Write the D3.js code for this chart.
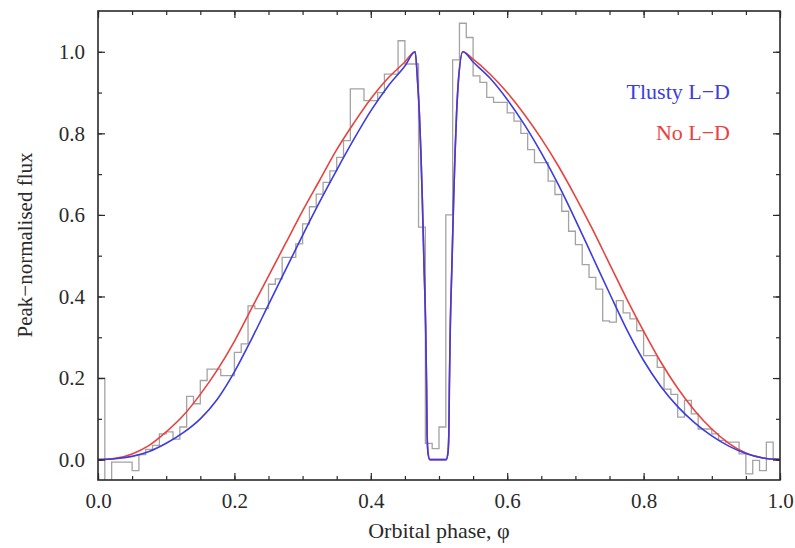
<!DOCTYPE html>
<html><head><meta charset="utf-8">
<script src="https://cdn.jsdelivr.net/npm/d3@7"></script>
<style>body{margin:0;background:#fff}</style>
</head><body>
<svg id="chart" width="795" height="548"></svg>
<script>
// ---- data ----
const binWidth = 0.01;
const binFlux = [
  0.20, -0.06, -0.006, -0.006, -0.006, -0.027, 0.012, 0.025, 0.035, 0.063,
  0.068, 0.05, 0.08, 0.155, 0.137, 0.194, 0.222, 0.222, 0.206, 0.206,
  0.263, 0.284, 0.377, 0.37, 0.37, 0.43, 0.443, 0.496, 0.496, 0.529,
  0.578, 0.62, 0.651, 0.68, 0.708, 0.741, 0.782, 0.909, 0.909, 0.88,
  0.88, 0.90, 0.945, 0.945, 1.027, 0.97, 0.97, 0.57, 0.04, 0.027,
  0.08, 0.60, 0.98, 1.07, 1.035, 0.941, 0.925, 0.888, 0.876, 0.876,
  0.85, 0.83, 0.80, 0.76, 0.728, 0.728, 0.683, 0.65, 0.609, 0.56,
  0.527, 0.478, 0.447, 0.418, 0.34, 0.337, 0.39, 0.36, 0.345, 0.316,
  0.255, 0.255, 0.226, 0.173, 0.16, 0.104, 0.145, 0.112, 0.075, 0.075,
  0.063, 0.047, 0.043, 0.043, 0.014, -0.035, -0.002, -0.027, 0.043, 0.002
];
const modelPhase = [
  0, 0.025, 0.05, 0.075, 0.1, 0.125, 0.15, 0.175, 0.2, 0.225,
  0.25, 0.275, 0.3, 0.325, 0.35, 0.375, 0.4, 0.425, 0.45, 0.465,
  0.4685, 0.4712, 0.4735, 0.4755, 0.478, 0.4805, 0.4818, 0.4826, 0.484, 0.4865,
  0.5105, 0.513, 0.5144, 0.5152, 0.5165, 0.519, 0.5215, 0.5235, 0.5258, 0.5285,
  0.535, 0.55, 0.575, 0.6, 0.625, 0.65, 0.675, 0.7, 0.725, 0.75,
  0.775, 0.8, 0.825, 0.85, 0.875, 0.9, 0.925, 0.95, 0.975, 1.0
];
const tlustyFlux = [
  0, 0.002, 0.008, 0.02, 0.04, 0.066, 0.10, 0.148, 0.215, 0.295,
  0.38, 0.465, 0.55, 0.632, 0.71, 0.785, 0.855, 0.915, 0.965, 1.0,
  0.93, 0.85, 0.75, 0.64, 0.48, 0.32, 0.18, 0.06, 0.015, 0.0,
  0.0, 0.015, 0.06, 0.18, 0.32, 0.48, 0.64, 0.75, 0.85, 0.93,
  1.0, 0.975, 0.935, 0.883, 0.822, 0.752, 0.674, 0.588, 0.498, 0.408,
  0.32, 0.243, 0.18, 0.13, 0.09, 0.058, 0.033, 0.015, 0.004, 0
];
const noLDFlux = [
  0, 0.003, 0.014, 0.035, 0.068, 0.108, 0.16, 0.22, 0.29, 0.37,
  0.45, 0.53, 0.61, 0.685, 0.76, 0.825, 0.885, 0.935, 0.975, 1.0,
  0.93, 0.85, 0.75, 0.64, 0.48, 0.32, 0.18, 0.06, 0.015, 0.0,
  0.0, 0.015, 0.06, 0.18, 0.32, 0.48, 0.64, 0.75, 0.85, 0.93,
  1.0, 0.982, 0.945, 0.90, 0.847, 0.787, 0.72, 0.645, 0.565, 0.48,
  0.395, 0.315, 0.24, 0.175, 0.12, 0.075, 0.04, 0.016, 0.004, 0
];
const xTicks = [0, 0.2, 0.4, 0.6, 0.8, 1.0];
const yTicks = [0, 0.2, 0.4, 0.6, 0.8, 1.0];
const xMinorTicks = d3.range(0, 1.0001, 0.05);
const yMinorTicks = [0, 0.1, 0.2, 0.3, 0.4, 0.5, 0.6, 0.7, 0.8, 0.9, 1.0];
const seriesNames = ["Tlusty L\u2212D", "No L\u2212D"];
const xTitle = "Orbital phase, \u03c6";
const yTitle = "Peak\u2212normalised flux";

// ---- layout ----
const L = 98, R = 780, T = 11, B = 480;
const blue = "#3c3ce0", red = "#e8433f", grey = "#a3a3a3", ink = "#2a2a2a";
const font = "'Liberation Serif', 'Times New Roman', Times, serif";

const svg = d3.select("#chart");
const x = d3.scaleLinear().domain([0, 1]).range([L, R]);
const y = d3.scaleLinear().domain([-0.05, 1.1]).range([B, T]);

svg.append("defs").append("clipPath").attr("id", "clip")
  .append("rect").attr("x", L).attr("y", T).attr("width", R - L).attr("height", B - T);

const plot = svg.append("g").attr("clip-path", "url(#clip)");

// histogram
const histPts = binFlux.map((v, i) => [i * binWidth, v]);
histPts.push([binFlux.length * binWidth, binFlux[binFlux.length - 1]]);
plot.append("path")
  .attr("d", d3.line().x(d => x(d[0])).y(d => y(d[1])).curve(d3.curveStepAfter)(histPts))
  .attr("fill", "none").attr("stroke", grey).attr("stroke-width", 1.3);

const modelLine = vals => d3.line()
  .x((d, i) => x(modelPhase[i])).y(d => y(d))
  .curve(d3.curveMonotoneX)(vals);

plot.append("path").attr("d", modelLine(noLDFlux))
  .attr("fill", "none").attr("stroke", red).attr("stroke-width", 1.6);
plot.append("path").attr("d", modelLine(tlustyFlux))
  .attr("fill", "none").attr("stroke", blue).attr("stroke-width", 1.6);

// axes
function styleAxis(g) {
  g.select(".domain").remove();
  g.selectAll(".tick line").attr("stroke", ink).attr("stroke-width", 1.2);
  g.selectAll(".tick text").attr("fill", ink).attr("font-family", font).attr("font-size", 21);
}
const fmt = d3.format(".1f");
svg.append("g").attr("transform", `translate(0,${B})`)
  .call(d3.axisBottom(x).tickValues(xTicks).tickFormat(fmt).tickSize(-7).tickPadding(13)).call(styleAxis);
svg.append("g").attr("transform", `translate(0,${B})`)
  .call(d3.axisBottom(x).tickValues(xMinorTicks).tickFormat("").tickSize(-4)).call(styleAxis);
svg.append("g").attr("transform", `translate(0,${T})`)
  .call(d3.axisTop(x).tickValues(xTicks).tickFormat("").tickSize(-7)).call(styleAxis);
svg.append("g").attr("transform", `translate(0,${T})`)
  .call(d3.axisTop(x).tickValues(xMinorTicks).tickFormat("").tickSize(-4)).call(styleAxis);
svg.append("g").attr("transform", `translate(${L},0)`)
  .call(d3.axisLeft(y).tickValues(yTicks).tickFormat(fmt).tickSize(-7).tickPadding(13)).call(styleAxis);
svg.append("g").attr("transform", `translate(${L},0)`)
  .call(d3.axisLeft(y).tickValues(yMinorTicks).tickFormat("").tickSize(-4)).call(styleAxis);
svg.append("g").attr("transform", `translate(${R},0)`)
  .call(d3.axisRight(y).tickValues(yTicks).tickFormat("").tickSize(-7)).call(styleAxis);
svg.append("g").attr("transform", `translate(${R},0)`)
  .call(d3.axisRight(y).tickValues(yMinorTicks).tickFormat("").tickSize(-4)).call(styleAxis);

svg.append("rect").attr("x", L).attr("y", T).attr("width", R - L).attr("height", B - T)
  .attr("fill", "none").attr("stroke", ink).attr("stroke-width", 1.6);

// titles
svg.append("text").attr("x", (L + R) / 2).attr("y", 538).attr("text-anchor", "middle")
  .attr("font-family", font).attr("font-size", 22).attr("fill", ink).text(xTitle);
svg.append("text").attr("transform", `translate(32,245) rotate(-90)`)
  .attr("text-anchor", "middle").attr("font-family", font).attr("font-size", 21).attr("fill", ink).text(yTitle);

// legend
svg.append("text").attr("x", 730).attr("y", 99).attr("text-anchor", "end")
  .attr("font-family", font).attr("font-size", 22).attr("fill", blue).text(seriesNames[0]);
svg.append("text").attr("x", 730).attr("y", 140).attr("text-anchor", "end")
  .attr("font-family", font).attr("font-size", 22).attr("fill", red).text(seriesNames[1]);
</script>
</body></html>
